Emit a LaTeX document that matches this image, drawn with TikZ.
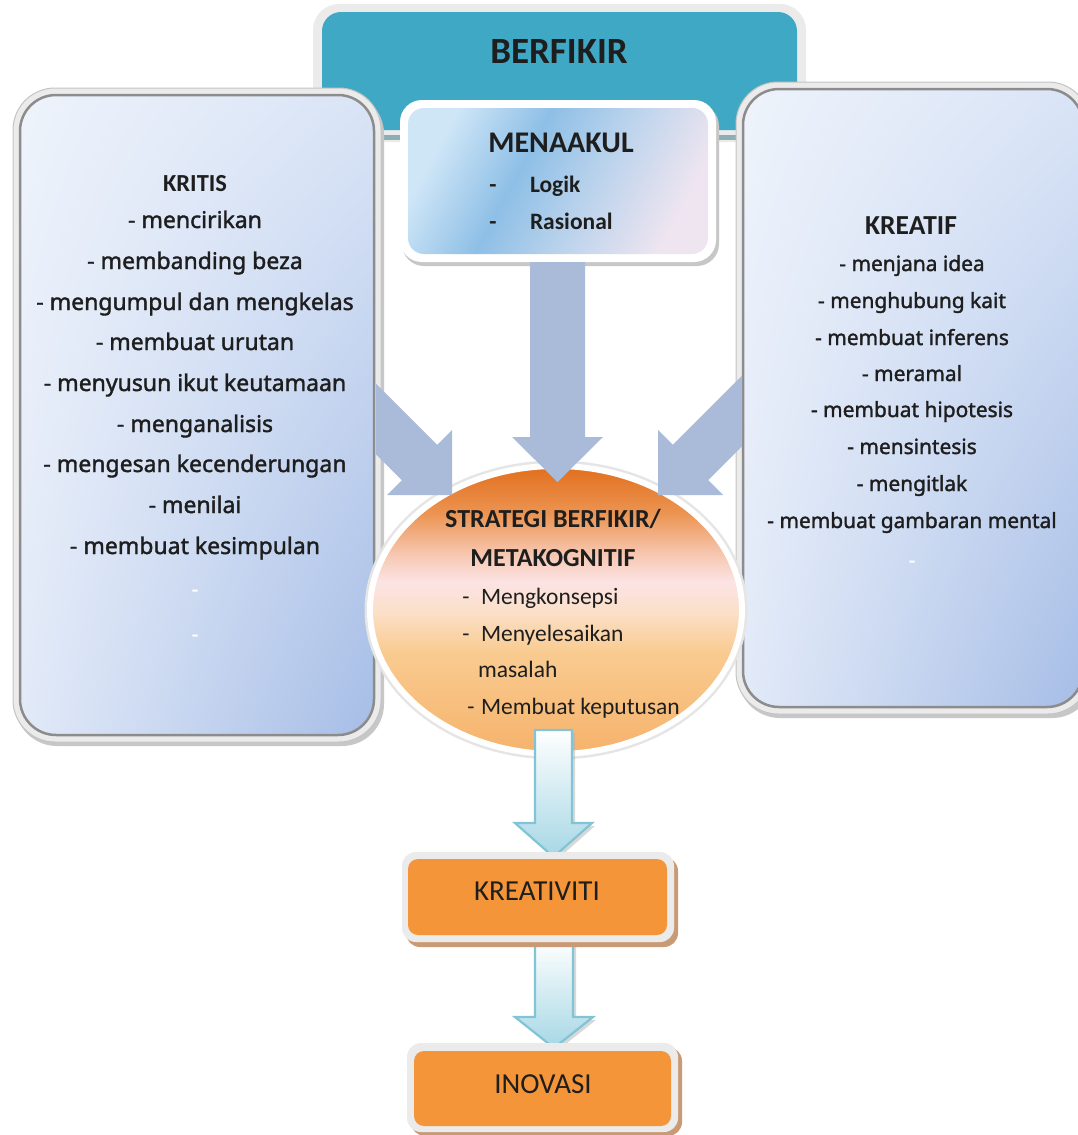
\documentclass[tikz,border=0pt]{standalone}
\usepackage{fontspec}
\usetikzlibrary{shadings}
\setmainfont{Carlito}
\newfontfamily\listfont{Noto Sans}[AutoFakeBold=1.6]
\definecolor{txt}{HTML}{1E1E1E}
\definecolor{teal1}{HTML}{3FA9C5}
\definecolor{ringfill}{HTML}{EBEBEB}
\definecolor{ringline}{HTML}{C4C4C4}
\definecolor{tealline}{HTML}{8DAEB3}
\definecolor{arrowblue}{HTML}{AABBD9}
\definecolor{orangebox}{HTML}{F5953A}
\definecolor{oshadow}{HTML}{C99A76}
\definecolor{sbUL}{HTML}{EEF3FB}
\definecolor{sbUR}{HTML}{D9E4F6}
\definecolor{sbLL}{HTML}{E2EAF8}
\definecolor{sbLR}{HTML}{A6BDE6}
\definecolor{sbline}{HTML}{8C8C8C}
\definecolor{eTop}{HTML}{E2701E}
\definecolor{eUp}{HTML}{EC9452}
\definecolor{eSal}{HTML}{F6C6AE}
\definecolor{ePink}{HTML}{FCE3E4}
\definecolor{eMid}{HTML}{FBE0CA}
\definecolor{eLo}{HTML}{F9CB90}
\definecolor{eBot}{HTML}{F6B36C}
\definecolor{m1}{HTML}{CFE6F7}
\definecolor{m2}{HTML}{8EBFE6}
\definecolor{m3}{HTML}{B8D2EC}
\definecolor{m4}{HTML}{EFE5F0}
\definecolor{d1}{HTML}{FFFFFF}
\definecolor{d2}{HTML}{A6D7E5}
\definecolor{dline}{HTML}{80C4D6}
\pgfdeclareverticalshading{ellshade}{100bp}{color(0bp)=(eBot); color(25bp)=(eBot); color(42.5bp)=(eLo); color(50bp)=(eMid); color(55bp)=(ePink); color(60bp)=(eSal); color(67bp)=(eUp); color(75bp)=(eTop); color(100bp)=(eTop)}
\pgfdeclarehorizontalshading{menshade}{100bp}{color(0bp)=(m1); color(25bp)=(m1); color(42bp)=(m2); color(56bp)=(m3); color(75bp)=(m4); color(100bp)=(m4)}
\pgfdeclareverticalshading{downshade}{100bp}{color(0bp)=(d2); color(25bp)=(d2); color(75bp)=(d1); color(100bp)=(d1)}
\tikzset{
  every node/.style={inner sep=0pt, outer sep=0pt, text=txt},
  lstL/.style={font=\listfont\bfseries\fontsize{23}{26}\selectfont, anchor=base},
  lstR/.style={font=\listfont\bfseries\fontsize{20.9}{24}\selectfont, anchor=base},
  whitedash/.style={font=\listfont\bfseries\fontsize{20}{24}\selectfont, anchor=base, text=white},
  blockarrow/.style={fill=arrowblue},
  downarrow/.style={shading=downshade, draw=dline, line width=2.2pt, line join=miter},
  sideouter/.style={fill=ringfill, draw=ringline, line width=1pt, rounded corners=42pt},
  sideinner/.style={draw=sbline, line width=2.5pt, rounded corners=36pt, upper left=sbUL, upper right=sbUR, lower left=sbLL, lower right=sbLR},
  ellt/.style={font=\fontsize{23.5}{28}\selectfont, anchor=base west},
  ellh/.style={font=\bfseries\fontsize{26}{30}\selectfont, anchor=base},
}
\begin{document}
\begin{tikzpicture}[x=1pt,y=-1pt]
\useasboundingbox (0,0) rectangle (1078,1135);
\clip (0,0) rectangle (1078,1135);
\fill[white] (0,0) rectangle (1078,1135);

% BERFIKIR header
\fill[ringfill, rounded corners=26pt] (313,4) rectangle (806,142);
\fill[teal1, rounded corners=19pt] (322,12) rectangle (797,130);
\draw[tealline, line width=5pt] (322,137.5) -- (797,137.5);

% side boxes
\fill[black!22, rounded corners=42pt] (15,92) rectangle (384,746);
\path[sideouter] (13,88) rectangle (381,742);
\shade[sideinner] (20,95) rectangle (374,735);
\fill[black!22, rounded corners=42pt] (738,86) rectangle (1094,718);
\path[sideouter] (736,82) rectangle (1090,714);
\shade[sideinner] (743,89) rectangle (1083,707);

% MENAAKUL box
\fill[black!22, rounded corners=22pt] (402,104) rectangle (719,266);
\fill[white, rounded corners=22pt] (400,100) rectangle (716,262);
\shade[shading=menshade, shading angle=-28, rounded corners=16pt] (408,108) rectangle (708,254);

% ellipse
\draw[black!10, line width=3pt] (556,610) ellipse [x radius=190, y radius=148];
\shade[shading=ellshade] (556,610) ellipse [x radius=184, y radius=142];
\draw[white, line width=6pt] (556,610) ellipse [x radius=186, y radius=144];

% block arrows into the ellipse
\fill[blockarrow] (530,262) -- (585,262) -- (585,437) -- (603,437) -- (557.5,482) -- (512,437) -- (530,437) -- cycle;
\fill[blockarrow] (376,383.6) -- (437.2,444.8) -- (452,430) -- (452,495) -- (387,495) -- (401.8,480.2) -- (376,454.4) -- cycle;
\fill[blockarrow] (742,375.6) -- (672.8,444.8) -- (658,430) -- (658,495) -- (723,495) -- (708.2,480.2) -- (742,446.4) -- cycle;

% down arrows
\fill[black!30, opacity=0.5] (538,733) -- (575,733) -- (575,826) -- (595,826) -- (556.5,860) -- (518,826) -- (538,826) -- cycle;
\path[downarrow] (535,730) -- (572,730) -- (572,823) -- (592,823) -- (553.5,857) -- (515,823) -- (535,823) -- cycle;
\fill[black!30, opacity=0.5] (538,943) -- (576,943) -- (576,1020) -- (596,1020) -- (557,1051) -- (518,1020) -- (538,1020) -- cycle;
\path[downarrow] (535,940) -- (573,940) -- (573,1017) -- (593,1017) -- (554,1048) -- (515,1017) -- (535,1017) -- cycle;

% orange boxes
\fill[oshadow, rounded corners=14pt] (406,857) rectangle (678,947);
\fill[ringfill, rounded corners=14pt] (402,852) rectangle (674,942);
\fill[orangebox, rounded corners=10pt] (408,859) rectangle (667,935);
\fill[oshadow, rounded corners=14pt] (411,1047) rectangle (682,1136);
\fill[ringfill, rounded corners=14pt] (407,1043) rectangle (678,1132);
\fill[orangebox, rounded corners=10pt] (414,1051) rectangle (671,1126);

% texts
\node[font=\bfseries\fontsize{37}{40}\selectfont, anchor=base] (berfikir) at (559,63) {BERFIKIR};
\node[font=\bfseries\fontsize{30}{34}\selectfont, anchor=base] (menaakul) at (561,152) {MENAAKUL};
\node[font=\bfseries\fontsize{23.5}{28}\selectfont, anchor=base] (dlog) at (493,192) {-};
\node[font=\bfseries\fontsize{23.5}{28}\selectfont, anchor=base west] (logik) at (530,192) {Logik};
\node[font=\bfseries\fontsize{23.5}{28}\selectfont, anchor=base] (dras) at (493,229) {-};
\node[font=\bfseries\fontsize{23.5}{28}\selectfont, anchor=base west] (rasional) at (530,229) {Rasional};

\node[font=\bfseries\fontsize{24.5}{28}\selectfont, anchor=base] (kritis) at (195,191) {KRITIS};
\node[lstL] (k1) at (195,228) {- mencirikan};
\node[lstL] (k2) at (195,269) {- membanding beza};
\node[lstL] (k3) at (195,310) {- mengumpul dan mengkelas};
\node[lstL] (k4) at (195,350) {- membuat urutan};
\node[lstL] (k5) at (195,391) {- menyusun ikut keutamaan};
\node[lstL] (k6) at (195,432) {- menganalisis};
\node[lstL] (k7) at (195,472) {- mengesan kecenderungan};
\node[lstL] (k8) at (195,513) {- menilai};
\node[lstL] (k9) at (195,554) {- membuat kesimpulan};
\node[whitedash] (k10) at (195,596) {-};
\node[whitedash] (k11) at (195,641) {-};

\node[font=\bfseries\fontsize{27.5}{30}\selectfont, anchor=base] (kreatif) at (911,234) {KREATIF};
\node[lstR] (r1) at (912,271) {- menjana idea};
\node[lstR] (r2) at (912,308) {- menghubung kait};
\node[lstR] (r3) at (912,345) {- membuat inferens};
\node[lstR] (r4) at (912,381) {- meramal};
\node[lstR] (r5) at (912,417) {- membuat hipotesis};
\node[lstR] (r6) at (912,454) {- mensintesis};
\node[lstR] (r7) at (912,491) {- mengitlak};
\node[lstR] (r8) at (912,528) {- membuat gambaran mental};
\node[whitedash] (r9) at (912,567) {-};

\node[ellh] (strategi) at (553,527) {STRATEGI BERFIKIR/};
\node[ellh] (meta) at (553,566) {METAKOGNITIF};
\node[ellt, anchor=base] (e1d) at (466,604) {-};
\node[ellt] (e1) at (481,604) {Mengkonsepsi};
\node[ellt, anchor=base] (e2d) at (466,641) {-};
\node[ellt] (e2) at (481,641) {Menyelesaikan};
\node[ellt] (e3) at (478,677) {masalah};
\node[ellt, anchor=base] (e4d) at (471,714) {-};
\node[ellt] (e4) at (481,714) {Membuat keputusan};

\node[font=\fontsize{29}{32}\selectfont, anchor=base] (kreativiti) at (537,900) {KREATIVITI};
\node[font=\fontsize{29}{32}\selectfont, anchor=base] (inovasi) at (543,1093) {INOVASI};
\end{tikzpicture}
\end{document}
